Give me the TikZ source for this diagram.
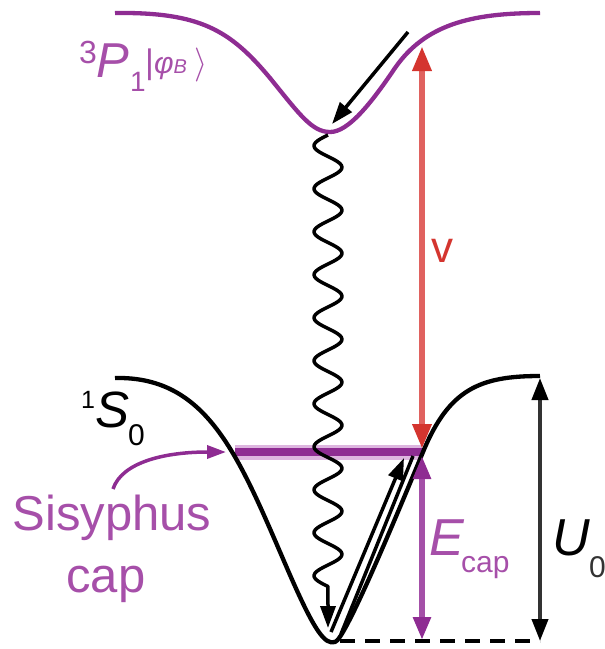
\RequirePackage{fix-cm}
\documentclass[tikz,border=0pt]{standalone}
\usepackage{fontspec}
\setmainfont{Liberation Sans}
\usetikzlibrary{arrows.meta}
\definecolor{pur}{HTML}{8E2C92}
\definecolor{purmid}{HTML}{A450A8}
\definecolor{purtxt}{HTML}{A64FA9}
\definecolor{purlight}{HTML}{DDB5DF}
\definecolor{redl}{HTML}{E0625F}
\definecolor{redd}{HTML}{D4352F}
\definecolor{dgray}{HTML}{333333}
\newcommand\fsz[1]{\fontsize{#1}{#1}\selectfont}
\begin{document}
\begin{tikzpicture}[x=1pt,y=-1pt,line join=round,
  curve/.style={line width=4.3pt},
  lbl/.style={inner sep=0pt,anchor=base west}]
\useasboundingbox (0,0) rectangle (605,649);

% excited-state potential 3P1
\draw[curve,pur] (115,13) .. controls (200,12) and (230,30) .. (270,78)
  .. controls (300,115) and (312,132) .. (330,132)
  .. controls (348,132) and (370,105) .. (395,68)
  .. controls (425,25) and (470,13) .. (540,13);

% Sisyphus cap level
\coordinate (capL) at (235,452);
\coordinate (capR) at (422,452);
\draw[purlight,line width=15pt] (capL) -- (capR);
\draw[pur,line width=7.5pt] (capL) -- (capR);

% ground-state potential 1S0
\draw[curve,black] (115,378) .. controls (210,376) and (240,460) .. (290,575)
  .. controls (315,632) and (325,645) .. (335,642)
  .. controls (345,640) and (396,517) .. (423,452)
  .. controls (449,389) and (480,376) .. (540,376);

% dashed bottom line
\coordinate (bot) at (340,641);
\coordinate (botR) at (540,641);
\draw[line width=3.5pt,dash pattern=on 15pt off 10pt] (bot) -- (botR);

% U0 arrow
\coordinate (uT) at (540,378);
\draw[dgray,line width=4pt,{Triangle[length=22pt,width=16pt,color=black]}-{Triangle[length=22pt,width=16pt,color=black]}] (uT) -- (botR);

% E_cap arrow
\coordinate (eT) at (422,456);
\coordinate (eB) at (422,640);
\draw[purmid,line width=5.5pt,{Triangle[length=23pt,width=17pt,color=pur]}-{Triangle[length=23pt,width=17pt,color=pur]}] (eT) -- (eB);

% red excitation arrow
\coordinate (rT) at (422,46);
\coordinate (rB) at (422,449);
\draw[redl,line width=6.5pt,{Triangle[length=25pt,width=18pt,color=redd]}-{Triangle[length=25pt,width=18pt,color=redd]}] (rT) -- (rB);

% black arrow down the excited potential
\coordinate (a1) at (408,32);
\coordinate (a2) at (332,124);
\draw[line width=3.5pt,-{Triangle[length=22pt,width=15pt]}] (a1) -- (a2);

% spontaneous emission (wavy)
\coordinate (w1) at (328,135);
\coordinate (w2) at (328,628);
\draw[line width=3.5pt,-{Triangle[length=22pt,width=15pt]}]
  plot[domain=0:451.5,samples=240,smooth] ({328-14*sin(\x/43*360)},{135+\x}) -- (w2);

% climbing arrows inside the well
\coordinate (c1) at (331,632);
\coordinate (c2) at (404,458);
\coordinate (d1) at (341,634);
\coordinate (d2) at (413,456);
\draw[line width=3.5pt,-{Triangle[length=22pt,width=15pt]}] (c1) -- (c2);
\draw[line width=3.5pt] (d1) -- (d2);

% Sisyphus arrow
\coordinate (s1) at (113,489);
\coordinate (s2) at (226,452);
\draw[pur,line width=3.5pt,-{Triangle[length=19pt,width=13pt]}] (s1) .. controls (122,462) and (165,452) .. (s2);

% labels
\node[lbl,purtxt] (p3) at (79,63) {\fsz{32}3};
\node[lbl,purtxt] (pP) at (96,77) {\fsz{49}\itshape P};
\node[lbl,purtxt] (p1) at (130,91) {\fsz{28}1};
\node[lbl,purtxt] (pk) at (145,73) {\fsz{34}|{\fsz{30}\itshape φ}{\fsz{20}\itshape B}\hspace{8pt}$\rangle$};

\node[lbl] (g1) at (81,408) {\fsz{25}1};
\node[lbl] (gS) at (95,427) {\fsz{51}\itshape S};
\node[lbl] (g0) at (128,445) {\fsz{30}0};

\node[purtxt,inner sep=0pt,anchor=base] (sis) at (112,530) {\fsz{49}Sisyphus};
\node[purtxt,inner sep=0pt,anchor=base] (cap) at (106,592) {\fsz{49}cap};

\node[redd,inner sep=0pt,anchor=base] (nu) at (442,262) {\fsz{44}v};

\node[lbl,purtxt] (eE) at (429,555) {\fsz{52}\itshape E};
\node[lbl,purtxt] (ec) at (461,572) {\fsz{30}cap};

\node[lbl] (uU) at (552,555) {\fsz{52}\itshape U};
\node[lbl,dgray] (u0) at (589,577) {\fsz{30}0};
\end{tikzpicture}
\end{document}
